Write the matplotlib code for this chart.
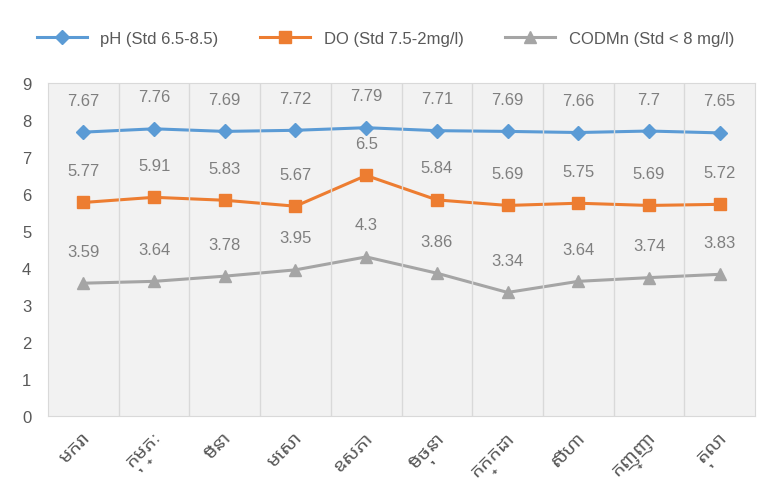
import matplotlib
matplotlib.use("Agg")
import matplotlib.pyplot as plt

months = ['មករា', 'កុម្ភៈ', 'មីនា', 'មេសា', 'ឧសភា', 'មិថុនា', 'កក្កដា', 'សីហា', 'កញ្ញា', 'តុលា']
ph = [7.67, 7.76, 7.69, 7.72, 7.79, 7.71, 7.69, 7.66, 7.7, 7.65]
do = [5.77, 5.91, 5.83, 5.67, 6.5, 5.84, 5.69, 5.75, 5.69, 5.72]
cod = [3.59, 3.64, 3.78, 3.95, 4.3, 3.86, 3.34, 3.64, 3.74, 3.83]

plt.rcParams['font.family'] = ['Liberation Sans', 'DejaVu Sans']

fig = plt.figure(figsize=(7.71, 4.85), dpi=100)
ax = fig.add_axes([0.0623, 0.140, 0.917, 0.687])
ax.set_facecolor('#f2f2f2')

x = list(range(len(months)))
series = [
    (ph, '#5b9bd5', 'D', 7, 'pH (Std 6.5-8.5)'),
    (do, '#ed7d31', 's', 8, 'DO (Std 7.5-2mg/l)'),
    (cod, '#a5a5a5', '^', 8, 'CODMn (Std < 8 mg/l)'),
]
for vals, col, mk, ms, lab in series:
    ax.plot(x, vals, color=col, marker=mk, markersize=ms, linewidth=2.2, label=lab)
    for xi, v in zip(x, vals):
        ax.annotate(f'{v:g}', (xi, v), xytext=(0, 23), textcoords='offset points',
                    ha='center', va='center', fontsize=12, color='#7f7f7f')

ax.set_xlim(-0.5, len(months) - 0.5)
ax.set_ylim(0, 9)
ax.set_yticks(range(10))
ax.tick_params(axis='y', length=0, labelsize=12, labelcolor='#595959', pad=12)
ax.set_xticks(x)
ax.set_xticklabels(months, rotation=45, ha='right', rotation_mode='anchor',
                   fontsize=14, color='#595959',
                   family=['Noto Sans Khmer UI', 'Noto Sans Khmer', 'Battambang', 'DejaVu Sans'])
ax.tick_params(axis='x', length=0, pad=10)

# vertical category separators
for b in range(1, len(months)):
    ax.axvline(b - 0.5, color='#d9d9d9', linewidth=1)
for s in ax.spines.values():
    s.set_color('#d9d9d9')

fig.legend(loc='upper center', bbox_to_anchor=(0.5, 0.965), ncol=3, frameon=False,
           fontsize=12, labelcolor='#595959', handlelength=3, columnspacing=2.5)

fig.savefig('out.png', dpi=100)
